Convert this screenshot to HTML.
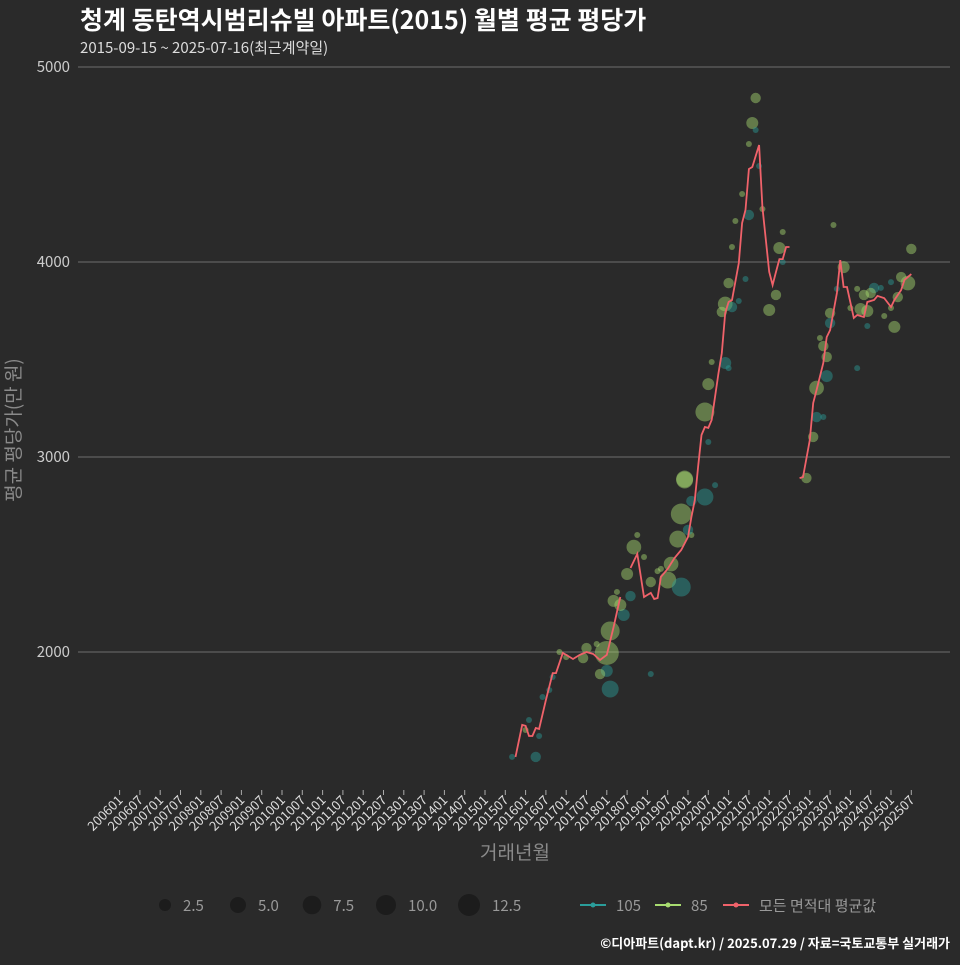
<!DOCTYPE html>
<html><head><meta charset="utf-8">
<style>
body{margin:0;background:#2a2a2a;}
svg text{font-family:"Noto Sans CJK KR","Liberation Sans",sans-serif;}
</style></head>
<body>
<svg id="chart" width="960" height="960" viewBox="0 0 960 960" xmlns="http://www.w3.org/2000/svg">
<rect width="960" height="960" fill="#2a2a2a"/>
<text x="80" y="29" fill="#ffffff" font-size="25" font-weight="bold">청계 동탄역시범리슈빌 아파트(2015) 월별 평균 평당가</text>
<text x="80" y="53" fill="#dddddd" font-size="15">2015-09-15 ~ 2025-07-16(최근계약일)</text>
<g id="grid"></g>
<g id="xaxis"></g>
<g id="points"></g>
<g id="line"></g>
<text transform="translate(20,430) rotate(-90)" text-anchor="middle" fill="#8a8a8a" font-size="19">평균 평당가(만 원)</text>
<text x="515" y="859" text-anchor="middle" fill="#8a8a8a" font-size="19">거래년월</text>
<g id="legend"></g>
<text x="950" y="948" text-anchor="end" fill="#ffffff" font-size="13" font-weight="bold">©디아파트(dapt.kr) / 2025.07.29 / 자료=국토교통부 실거래가</text>
</svg>
<script>
// month index = months since 2006-01
const yTicks=[2000,3000,4000,5000];
const lineMonths=[114,117,119,120,121,122,123,124,126,128,129,131,132,134,136,138,140,142,144,146,148,151,153,155,157,158,159,160,162,164,166,168,169,170,171,172,173,174,175,177,178,179,180,181,183,184,185,186,187,189,190,192,193,194,195,196,197,198,
201,202,204,205,206,208,209,210,212,213,214,215,217,218,220,221,223,224,226,228,229,231,232,234];
const lineValues=[1462,1462,1626,1621,1569,1569,1610,1605,1754,1892,1892,1995,1985,1964,1985,2000,1990,1959,1985,2128,2282,2431,2503,2282,2303,2272,2277,2385,2426,2482,2523,2590,2692,2779,2949,3113,3154,3149,3190,3431,3533,3738,3795,3805,3995,4200,4267,4477,4487,4600,4282,3949,3882,3949,4015,4015,4077,4077,
2892,2897,3087,3277,3344,3482,3615,3651,3841,4010,3872,3872,3713,3728,3718,3795,3805,3826,3815,3769,3805,3856,3908,3938];
const ptMonths=[116,123,121,120,124,125,127,128,130,132,137,138,141,144,144,142,145,157,145,149,148,146,147,151,150,152,153,155,157,159,160,162,163,166,165,169,168,166,169,173,176,167,
188,187,188,186,189,184,186,190,182,196,181,195,196,185,180,194,192,183,179,181,178,179,175,180,174,173,174,167,
211,234,214,231,233,228,212,218,223,225,220,222,230,216,219,221,228,226,210,210,221,229,207,208,209,218,209,206,206,208,205,203];
const ptValues=[1462,1462,1651,1600,1569,1769,1805,1872,2000,1974,1969,2020,2041,1995,1903,1887,1810,1887,2108,2190,2241,2262,2308,2287,2400,2538,2600,2487,2359,2415,2426,2369,2451,2333,2579,2600,2626,2708,2774,2795,2856,2882,
4841,4713,4677,4605,4492,4349,4241,4272,4210,4154,4077,4072,4000,3913,3892,3831,3754,3800,3785,3769,3744,3482,3487,3456,3374,3231,3077,2887,
4190,4067,3974,3923,3892,3897,3862,3862,3867,3867,3831,3841,3820,3764,3759,3749,3764,3723,3738,3687,3672,3667,3610,3569,3513,3456,3415,3354,3205,3205,3103,2892];
const ptCounts=[1,3,1,1,1,1,1,1,1,1,3,3,1,16,4,3,8,1,10,4,4,4,1,3,4,6,1,1,3,1,1,8,6,10,8,1,3,12,3,8,1,8,
3,4,1,1,1,1,3,1,1,1,1,4,1,1,3,3,4,1,6,3,3,4,1,1,4,10,1,8,
1,3,4,3,6,1,1,1,3,1,3,3,3,1,4,4,1,1,3,3,1,4,1,3,3,1,4,6,3,1,3,3];
const ptTypes=["105","105","105","85","105","105","105","105","85","85","85","85","85","85","105","85","105","105","85","105","85","85","85","105","85","85","85","85","85","85","85","85","85","105","85","85","105","85","105","105","105","85",
"85","85","105","85","105","85","105","85","85","85","85","85","105","105","85","85","85","105","85","105","85","105","85","105","85","85","105","85",
"85","85","85","85","85","105","105","85","105","105","85","85","85","85","85","85","85","85","85","105","105","85","85","85","85","105","105","85","105","105","85","85"];
const xTickLabels=[];for(let yr=2006;yr<=2025;yr++){xTickLabels.push(yr+"01");xTickLabels.push(yr+"07");}
const sizeLegend=[2.5,5.0,7.5,10.0,12.5];

const NS="http://www.w3.org/2000/svg";
const X0=119.6, XSTEP=20.3/6;
function xs(m){return X0+m*XSTEP;}
function ys(v){return 652-(v-2000)*0.195;}
function rs(n){return Math.sqrt(n)*3.0;}
function mk(t,a,p){const e=document.createElementNS(NS,t);for(const k in a)e.setAttribute(k,a[k]);p.appendChild(e);return e;}
const colors={"105":"#2a9d9a","85":"#a8dc70"};

const grid=document.getElementById('grid');
yTicks.forEach(v=>{
 const l=mk('line',{x1:78,x2:950,y1:ys(v),y2:ys(v),stroke:'#6e6e6e','stroke-width':1},grid);
 
 
 const t=mk('text',{x:70,y:ys(v)+5,'text-anchor':'end',fill:'#cccccc','font-size':15},grid);
 t.textContent=v;
 
 
});
const xa=document.getElementById('xaxis');
xTickLabels.forEach((lab,i)=>{
 const x=xs(i*6);
 const tk=mk('line',{x1:x,x2:x,y1:790,y2:795,stroke:'#aaaaaa','stroke-width':1},xa);
 
 
 const t=mk('text',{transform:`translate(${x+4},${801}) rotate(-45)`,'text-anchor':'end',fill:'#dddddd','font-size':13},xa);
 t.textContent=lab;
 
 
});
const pg=document.getElementById('points');
ptMonths.forEach((m,i)=>{
 const c=mk('circle',{cx:xs(m),cy:ys(ptValues[i]),r:rs(ptCounts[i]),fill:colors[ptTypes[i]],'fill-opacity':0.45},pg);
 
 
});
const lg=document.getElementById('line');
let segs=[],cur=[];
lineMonths.forEach((m,i)=>{
 if(i>0&&m-lineMonths[i-1]>2){segs.push(cur);cur=[];}
 cur.push(xs(m).toFixed(1)+','+ys(lineValues[i]).toFixed(1));
});
segs.push(cur);
segs.forEach(s=>{
 const p=mk('polyline',{points:s.join(' '),fill:'none',stroke:'#f0626a','stroke-width':1.8},lg);
 
 
});
const leg=document.getElementById('legend');
const lpos=[165,238,312,386,469], lr=[6,8,9.3,10,11];
sizeLegend.forEach((s,i)=>{
 const c=mk('circle',{cx:lpos[i],cy:905,r:lr[i],fill:'#1c1c1c'},leg);
 
 
 const t=mk('text',{x:lpos[i]+lr[i]+12,y:911,fill:'#999999','font-size':15},leg);
 t.textContent=s.toFixed(1);
 
 
});
[["105","#2a9d9a",580],["85","#a8dc70",655],["모든 면적대 평균값","#f0626a",723]].forEach(([lab,col,x])=>{
 const l=mk('line',{x1:x,x2:x+26,y1:905,y2:905,stroke:col,'stroke-width':2},leg);
 
 
 const c=mk('circle',{cx:x+13,cy:905,r:2.5,fill:col},leg);
 
 
 const t=mk('text',{x:x+36,y:911,fill:'#999999','font-size':15},leg);
 t.textContent=lab;
 
 
});
</script>
</body></html>
